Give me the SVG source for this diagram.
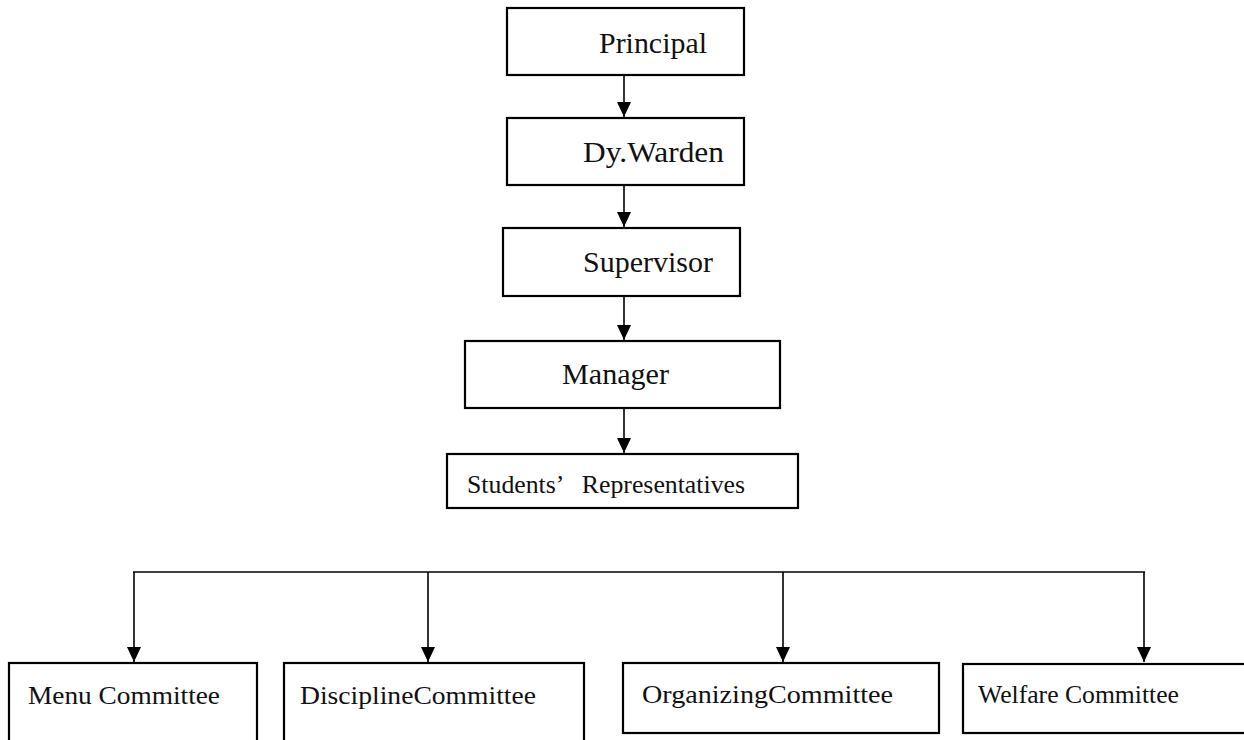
<svg xmlns="http://www.w3.org/2000/svg" width="1244" height="740" viewBox="0 0 1244 740">
<style>
.box{fill:#fff;stroke:#000;stroke-width:2.2}
.t{font-family:"Liberation Serif","DejaVu Serif",serif;fill:#111;font-size:29px}
.s{font-size:25px}
.c{fill:none;stroke:#000;stroke-width:1.6}
</style>
<defs>
<marker id="ah" markerWidth="15" markerHeight="14" refX="15" refY="7" orient="auto" markerUnits="userSpaceOnUse">
<path d="M0,0 L15,7 L0,14 Z" fill="#000"/>
</marker>
</defs>
<rect width="1244" height="740" fill="#fff"/>
<g id="connectors">
<line class="c" x1="624" y1="75" x2="624" y2="117" marker-end="url(#ah)"/>
<line class="c" x1="624" y1="185" x2="624" y2="227" marker-end="url(#ah)"/>
<line class="c" x1="624" y1="296" x2="624" y2="340" marker-end="url(#ah)"/>
<line class="c" x1="624" y1="408" x2="624" y2="453" marker-end="url(#ah)"/>
<line class="c" x1="133" y1="572" x2="1145" y2="572"/>
<line class="c" x1="134" y1="572" x2="134" y2="662" marker-end="url(#ah)"/>
<line class="c" x1="428" y1="572" x2="428" y2="662" marker-end="url(#ah)"/>
<line class="c" x1="783" y1="572" x2="783" y2="662" marker-end="url(#ah)"/>
<line class="c" x1="1144" y1="572" x2="1144" y2="662" marker-end="url(#ah)"/>
</g>
<g id="principal"><rect class="box" x="507" y="8" width="237" height="67"/><text class="t" x="599" y="53" textLength="108" lengthAdjust="spacingAndGlyphs">Principal</text></g>
<g id="dywarden"><rect class="box" x="507" y="118" width="237" height="67"/><text class="t" x="583" y="162" textLength="141" lengthAdjust="spacingAndGlyphs">Dy.Warden</text></g>
<g id="supervisor"><rect class="box" x="503" y="228" width="237" height="68"/><text class="t" x="583" y="272" textLength="130" lengthAdjust="spacingAndGlyphs">Supervisor</text></g>
<g id="manager"><rect class="box" x="465" y="341" width="315" height="67"/><text class="t" x="562" y="384" textLength="107" lengthAdjust="spacingAndGlyphs">Manager</text></g>
<g id="students"><rect class="box" x="447" y="454" width="351" height="54"/><text class="t s" x="467" y="493" textLength="278" lengthAdjust="spacingAndGlyphs" xml:space="preserve" style="white-space:pre">Students’   Representatives</text></g>
<g id="menu"><rect class="box" x="9" y="663" width="248" height="90"/><text class="t s" x="28" y="704" textLength="192" lengthAdjust="spacingAndGlyphs">Menu Committee</text></g>
<g id="discipline"><rect class="box" x="284" y="663" width="300" height="90"/><text class="t s" x="300" y="704" textLength="236" lengthAdjust="spacingAndGlyphs">DisciplineCommittee</text></g>
<g id="organizing"><rect class="box" x="623" y="663" width="316" height="70"/><text class="t s" x="642" y="703" textLength="251" lengthAdjust="spacingAndGlyphs">OrganizingCommittee</text></g>
<g id="welfare"><rect class="box" x="963" y="664" width="300" height="69"/><text class="t s" x="978" y="703" textLength="201" lengthAdjust="spacingAndGlyphs">Welfare Committee</text></g>
</svg>
